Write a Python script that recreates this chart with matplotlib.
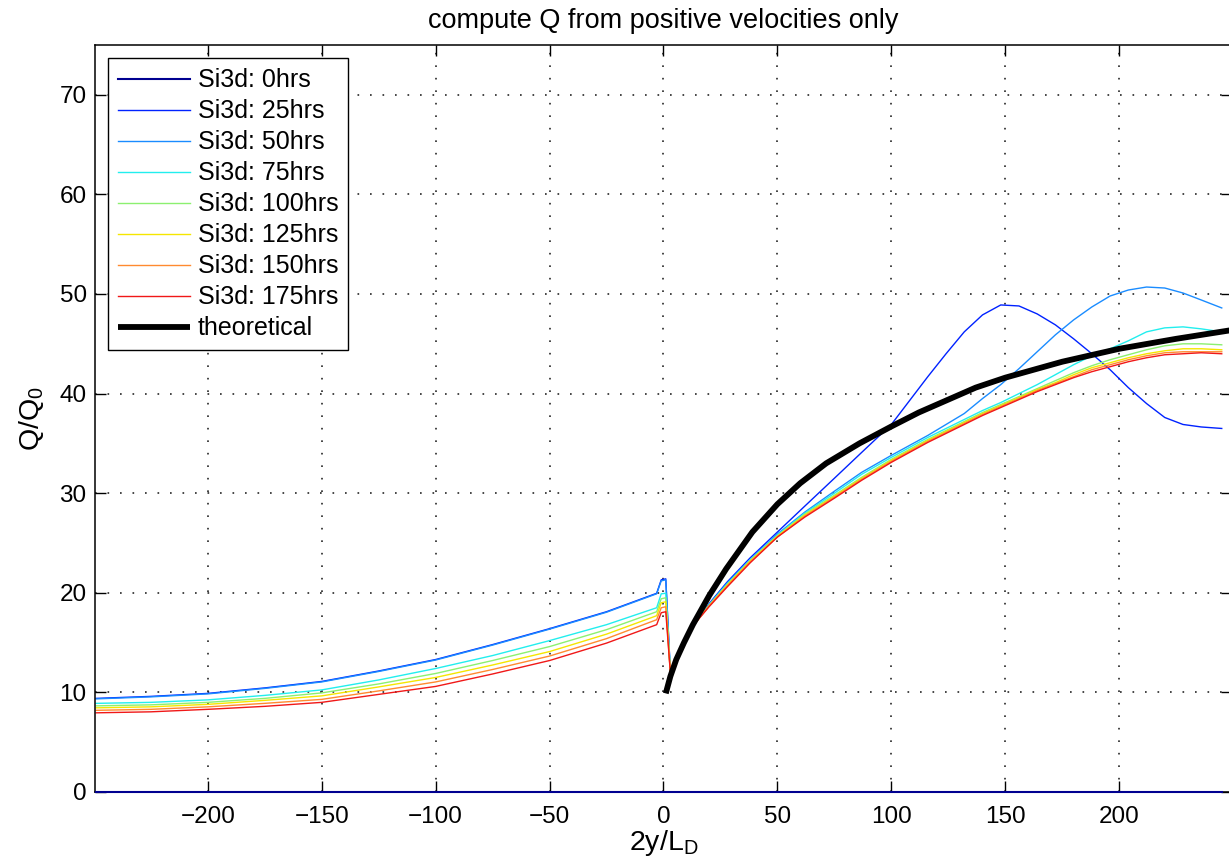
import numpy as np
import matplotlib
matplotlib.use("Agg")
import matplotlib.pyplot as plt

plt.rcParams['font.family'] = ['Liberation Sans', 'DejaVu Sans']

# x positions (2y/L_D) of the sampled points
x_neg = [-249, -225, -200, -175, -150, -125, -100, -75, -50, -25, -3, -1, 1]
x_pos = [3, 8, 13, 20, 28, 38, 50, 62, 75, 87, 100, 108, 116, 124, 132, 140, 148, 156, 164, 172,
         180, 188, 196, 204, 212, 220, 228, 236, 245]

labels = ['Si3d: 0hrs', 'Si3d: 25hrs', 'Si3d: 50hrs', 'Si3d: 75hrs', 'Si3d: 100hrs',
          'Si3d: 125hrs', 'Si3d: 150hrs', 'Si3d: 175hrs']
colors = ['#000090', '#0022ff', '#1a8cff', '#22eeee', '#8cf070', '#f5e600', '#ff8a30', '#f01818']

q_0hrs = [0.0] * (len(x_neg) + len(x_pos))
q_25hrs = [9.4, 9.6, 9.9, 10.45, 11.1, 12.15, 13.3, 14.8, 16.4, 18.1, 19.95, 21.3, 21.4,
           12.1, 14.7, 16.7, 18.9, 21.1, 23.5, 26.1, 28.7, 31.5, 34.1, 36.9, 39.3, 41.7, 44.0, 46.2,
           47.9, 48.9, 48.8, 48.0, 46.9, 45.5, 44.0, 42.4, 40.6, 39.0, 37.6, 36.9, 36.65, 36.5]
q_50hrs = [9.35, 9.55, 9.85, 10.4, 11.05, 12.1, 13.25, 14.75, 16.35, 18.05, 19.9, 21.2, 21.3,
           12.1, 14.7, 16.7, 18.8, 21.0, 23.3, 25.9, 28.1, 30.2, 32.1, 33.8, 34.8, 35.8, 36.9, 38.0,
           39.5, 40.9, 42.5, 44.2, 45.9, 47.4, 48.7, 49.8, 50.4, 50.7, 50.6, 50.1, 49.4, 48.6]
q_75hrs = [8.9, 9.0, 9.25, 9.7, 10.25, 11.25, 12.4, 13.7, 15.2, 16.8, 18.5, 19.9, 19.95,
           12.1, 14.7, 16.7, 18.8, 20.9, 23.3, 25.8, 28.0, 30.0, 31.9, 33.6, 34.6, 35.6, 36.5, 37.4,
           38.3, 39.1, 40.0, 40.9, 41.9, 42.9, 43.8, 44.5, 45.3, 46.2, 46.6, 46.7, 46.5, 46.2]
q_100hrs = [8.65, 8.75, 9.0, 9.4, 9.95, 10.85, 11.9, 13.2, 14.6, 16.3, 18.1, 19.4, 19.5,
            12.1, 14.7, 16.7, 18.7, 20.8, 23.2, 25.7, 27.9, 29.8, 31.6, 33.4, 34.4, 35.4, 36.3, 37.2,
            38.1, 38.9, 39.7, 40.5, 41.3, 42.1, 42.8, 43.4, 43.9, 44.4, 44.8, 45.0, 45.0, 44.9]
q_125hrs = [8.45, 8.55, 8.8, 9.2, 9.65, 10.55, 11.5, 12.75, 14.1, 15.85, 17.7, 19.0, 19.1,
            12.0, 14.7, 16.7, 18.7, 20.8, 23.2, 25.7, 27.8, 29.7, 31.5, 33.3, 34.3, 35.3, 36.2, 37.1,
            38.0, 38.8, 39.6, 40.4, 41.1, 41.9, 42.6, 43.1, 43.6, 44.0, 44.3, 44.5, 44.5, 44.4]
q_150hrs = [8.2, 8.3, 8.55, 8.9, 9.3, 10.15, 11.05, 12.3, 13.65, 15.4, 17.3, 18.5, 18.6,
            12.0, 14.7, 16.7, 18.7, 20.7, 23.1, 25.6, 27.7, 29.6, 31.4, 33.2, 34.2, 35.2, 36.1, 37.0,
            37.9, 38.7, 39.5, 40.3, 41.0, 41.7, 42.4, 42.9, 43.4, 43.8, 44.1, 44.2, 44.2, 44.2]
q_175hrs = [7.95, 8.05, 8.3, 8.6, 9.0, 9.8, 10.6, 11.85, 13.2, 14.95, 16.8, 18.0, 18.1,
            12.0, 14.6, 16.7, 18.6, 20.6, 23.0, 25.6, 27.6, 29.5, 31.3, 33.1, 34.1, 35.1, 36.0, 36.9,
            37.8, 38.6, 39.4, 40.2, 40.9, 41.6, 42.2, 42.7, 43.2, 43.6, 43.9, 44.0, 44.1, 44.0]

# theoretical curve
x_theory = [1, 3, 5.6, 9, 12.9, 20, 27.5, 39, 50, 60, 71.4, 86, 100, 112, 125, 137, 150, 175, 200, 225, 250]
q_theory = [9.9, 11.6, 13.3, 15.0, 16.8, 19.7, 22.4, 26.1, 28.9, 31.0, 33.0, 35.0, 36.7, 38.1, 39.4,
            40.6, 41.6, 43.2, 44.5, 45.5, 46.4]

series = [q_0hrs, q_25hrs, q_50hrs, q_75hrs, q_100hrs, q_125hrs, q_150hrs, q_175hrs]
x_all = x_neg + x_pos

fig = plt.figure(figsize=(12.29, 8.65), dpi=100)
ax = fig.add_axes([95 / 1229, 73 / 865, 1137 / 1229, 747 / 865])

for q, lab, c in zip(series, labels, colors):
    if lab == 'Si3d: 0hrs':
        ax.plot(x_all, q, color=c, lw=1.5, label=lab, clip_on=False, zorder=5)
    else:
        ax.plot(x_all, q, color=c, lw=1.0, label=lab)
ax.plot(x_theory, q_theory, color='k', lw=4.2, label='theoretical', solid_capstyle='butt')

ax.set_xlim(-249.5, 249.5)
ax.set_ylim(0, 75)
ax.set_xticks([-200, -150, -100, -50, 0, 50, 100, 150, 200])
ax.set_yticks([0, 10, 20, 30, 40, 50, 60, 70])
ax.grid(True, color='0.15', linestyle=(0, (1, 6.5)), lw=1.2)
ax.tick_params(direction='in', length=8, width=1, top=True, right=True, labelsize=17.5)
ax.tick_params(axis='x', pad=10)
ax.tick_params(axis='y', pad=6)
for s in ax.spines.values():
    s.set_linewidth(1.1)

ax.set_title('compute Q from positive velocities only', fontsize=19.5, pad=12)
ax.set_xlabel('2y/L$_\\mathregular{D}$', fontsize=20.5, labelpad=0)
ax.set_ylabel('Q/Q$_\\mathregular{0}$', fontsize=20.5, labelpad=10)

leg = ax.legend(loc='upper left', bbox_to_anchor=(0.011, 0.982), borderaxespad=0,
                fontsize=18, handlelength=2.9, handletextpad=0.3, labelspacing=0.28,
                borderpad=0.4, fancybox=False, framealpha=1, edgecolor='k')
leg.get_frame().set_linewidth(1.0)

fig.savefig('out.png', dpi=100)
